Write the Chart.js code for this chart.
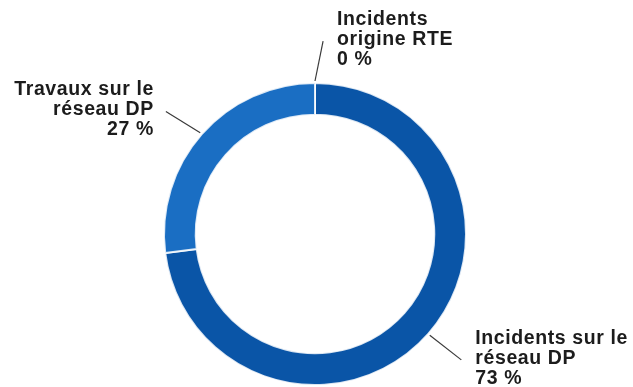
<!DOCTYPE html>
<html lang="fr">
<head>
<meta charset="utf-8">
<title>Origine des coupures</title>
<script src="https://cdn.jsdelivr.net/npm/chart.js@4/dist/chart.umd.min.js"></script>
<style>
  html, body { margin: 0; padding: 0; background: #ffffff; }
  canvas { display: block; }
</style>
</head>
<body>
<canvas id="chart" width="633" height="387"></canvas>
<script>
// Catégories (chaque libellé sur deux lignes) et parts en %
const categories = [
  ['Incidents sur le', 'réseau DP'],
  ['Travaux sur le', 'réseau DP'],
  ['Incidents', 'origine RTE']
];
const shares = [73, 27, 0];
const sliceColors = ['#0a55a7', '#1a6ec3', '#2a7fd0'];

// Libellés extérieurs reliés à chaque secteur par un trait
const outerLabels = {
  id: 'outerLabels',
  afterDatasetsDraw(chart, args, opts) {
    const ctx = chart.ctx;
    const meta = chart.getDatasetMeta(0);
    ctx.save();
    ctx.font = opts.font;
    ctx.letterSpacing = opts.letterSpacing;
    ctx.textBaseline = 'alphabetic';
    meta.data.forEach((arc, i) => {
      const p = arc.getProps(['x', 'y', 'startAngle', 'endAngle', 'outerRadius']);
      const mid = (p.startAngle + p.endAngle) / 2;
      const a1 = mid + opts.skew[i] * Math.PI / 180;
      const r0 = p.outerRadius + 2;
      const r1 = p.outerRadius + opts.lineLength;
      const x0 = p.x + Math.cos(mid) * r0, y0 = p.y + Math.sin(mid) * r0;
      const x1 = p.x + Math.cos(a1) * r1, y1 = p.y + Math.sin(a1) * r1;

      ctx.strokeStyle = opts.lineColor;
      ctx.lineWidth = 1.2;
      ctx.beginPath();
      ctx.moveTo(x0, y0);
      ctx.lineTo(x1, y1);
      ctx.stroke();

      const leftSide = Math.cos(a1) < -0.1;
      ctx.textAlign = leftSide ? 'right' : 'left';
      const tx = leftSide ? x1 - 12 : x1 + 14;
      const lines = [...categories[i], shares[i] + ' %'];
      ctx.fillStyle = opts.color;
      lines.forEach((t, k) => {
        ctx.fillText(t, tx, y1 - 16 + k * opts.lineHeight);
      });
    });
    ctx.restore();
  }
};

new Chart(document.getElementById('chart'), {
  type: 'doughnut',
  data: {
    labels: categories.map(c => c.join(' ')),
    datasets: [{
      data: shares,
      backgroundColor: sliceColors,
      borderColor: 'rgba(255,255,255,0.85)',
      borderWidth: 2
    }]
  },
  options: {
    responsive: false,
    animation: false,
    devicePixelRatio: 1,
    cutout: '79%',
    layout: { padding: { top: 82, bottom: 1, left: 0, right: 3 } },
    plugins: {
      legend: { display: false },
      tooltip: { enabled: false },
      outerLabels: {
        font: 'bold 19.5px "Liberation Sans", Arial, sans-serif',
        letterSpacing: '0.6px',
        lineHeight: 20,
        color: '#1c1c1c',
        lineColor: '#3a3a3a',
        lineLength: 42,
        skew: [-0.7, -2, 2.4]
      }
    }
  },
  plugins: [outerLabels]
});
</script>
</body>
</html>
